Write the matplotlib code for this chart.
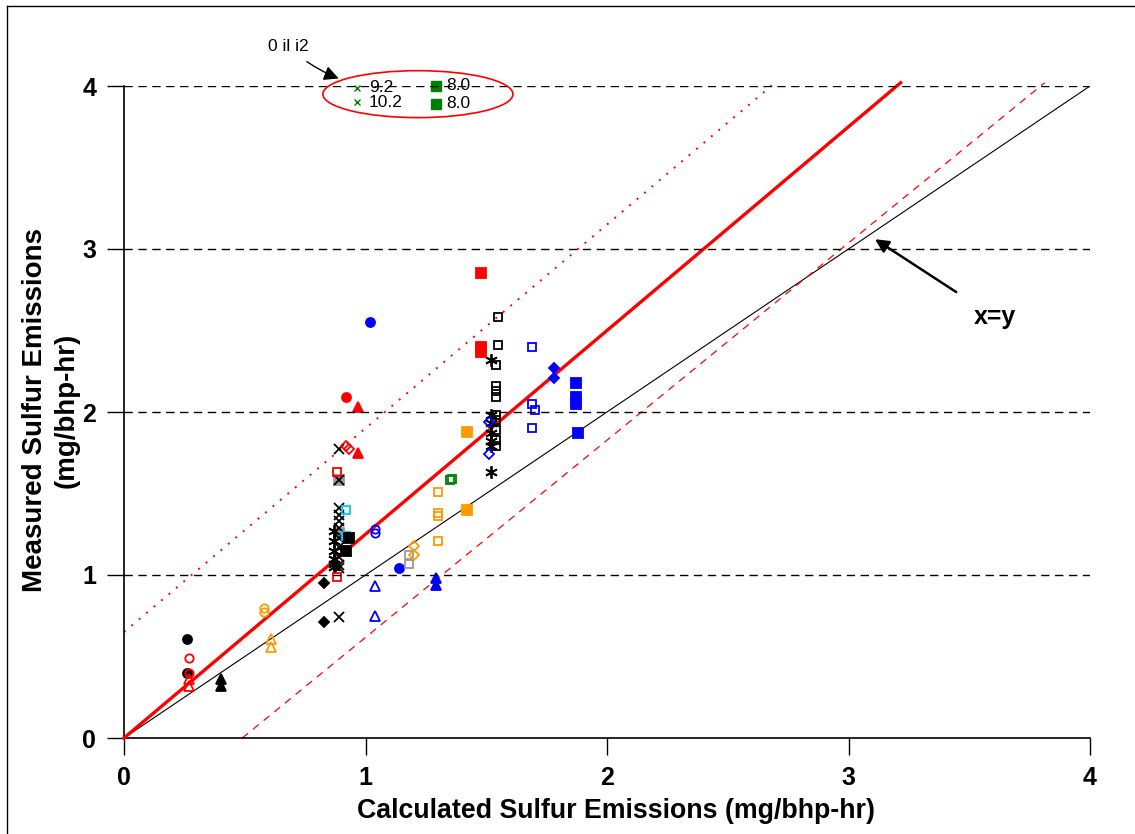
import matplotlib
matplotlib.use("Agg")
from matplotlib import pyplot as plt
from matplotlib.patches import Ellipse
from matplotlib.lines import Line2D

# ---- data (mg/bhp-hr) ----
blk_circ_x = [0.26, 0.26]
blk_circ_y = [0.61, 0.40]
red_ocirc_x = [0.27, 0.27]
red_ocirc_y = [0.49, 0.40]
red_otri_x = [0.27, 0.27]
red_otri_y = [0.36, 0.32]
blk_tri_x = [0.40, 0.40]
blk_tri_y = [0.36, 0.32]
org_ocirc_x = [0.58, 0.58]
org_ocirc_y = [0.80, 0.77]
org_otri_x = [0.61, 0.61]
org_otri_y = [0.61, 0.56]
blk_dia_x = [0.83, 0.83]
blk_dia_y = [0.95, 0.71]
blk_x_x = [0.89] * 12
blk_x_y = [1.77, 1.58, 1.41, 1.37, 1.33, 1.29, 1.23, 1.17, 1.11, 1.06, 1.04, 0.74]
blk_ast_x = [0.87, 0.87, 0.87, 0.87, 0.87, 0.87, 1.52, 1.52, 1.52, 1.52, 1.52, 1.52, 1.52]
blk_ast_y = [1.27, 1.21, 1.15, 1.10, 1.07, 1.05, 2.32, 1.98, 1.93, 1.87, 1.82, 1.79, 1.63]
red_osq_x = [0.88, 0.88]
red_osq_y = [1.63, 0.99]
red_odia_x = [0.92, 0.93]
red_odia_y = [1.79, 1.77]
red_circ_x = [0.92]
red_circ_y = [2.09]
red_tri_x = [0.97, 0.97]
red_tri_y = [2.03, 1.75]
gry_sq_x = [0.89, 0.89]
gry_sq_y = [1.58, 1.26]
cyn_osq_x = [0.92, 0.92]
cyn_osq_y = [1.40, 1.24]
blk_sq_x = [0.93, 0.92]
blk_sq_y = [1.23, 1.15]
blu_ocirc_x = [1.04, 1.04]
blu_ocirc_y = [1.28, 1.26]
blu_circ_x = [1.02, 1.14]
blu_circ_y = [2.55, 1.04]
blu_otri_x = [1.04, 1.04]
blu_otri_y = [0.93, 0.75]
blu_tri_x = [1.29, 1.29]
blu_tri_y = [0.98, 0.94]
gry_osq_x = [1.18, 1.18]
gry_osq_y = [1.12, 1.07]
org_odia_x = [1.20, 1.20]
org_odia_y = [1.18, 1.12]
org_osq_x = [1.30, 1.30, 1.30, 1.30]
org_osq_y = [1.51, 1.38, 1.36, 1.21]
org_sq_x = [1.42, 1.42]
org_sq_y = [1.88, 1.40]
grn_osq_x = [1.35, 1.36]
grn_osq_y = [1.58, 1.59]
red_sq_x = [1.48, 1.48, 1.48]
red_sq_y = [2.85, 2.40, 2.37]
blk_osq_x = [1.55, 1.55, 1.54, 1.54, 1.54, 1.54, 1.54, 1.54, 1.54, 1.54, 1.54]
blk_osq_y = [2.58, 2.41, 2.29, 2.16, 2.13, 2.09, 1.98, 1.95, 1.89, 1.83, 1.79]
blu_odia_x = [1.51, 1.51]
blu_odia_y = [1.94, 1.74]
blu_osq_x = [1.69, 1.69, 1.70, 1.69]
blu_osq_y = [2.40, 2.05, 2.01, 1.90]
blu_dia_x = [1.78, 1.78]
blu_dia_y = [2.27, 2.21]
blu_sq_x = [1.87, 1.87, 1.87, 1.88]
blu_sq_y = [2.18, 2.09, 2.05, 1.87]

# oil i2 points shown in the circled note
oil_labels = ["9.2", "10.2"]
oil_x_y = [3.99, 3.90]
oil_sq_labels = ["8.0", "8.0"]
oil_sq_y = [4.00, 3.89]

# reference lines: slope, intercept
fit_slope = 1.25
upper_icpt = 0.65
lower_slope, lower_x0 = 1.21, 0.49

RED = "#ff0000"
BLUE = "#0000ff"
ORANGE = "#ff9900"
GREEN = "#008000"
CYAN = "#00ccff"
GRAY = "#999999"
AST = (6, 2, 0)

series = [
    (blk_circ_x, blk_circ_y, "o", "k", True, 6.5),
    (red_ocirc_x, red_ocirc_y, "o", RED, False, 6),
    (red_otri_x, red_otri_y, "^", RED, False, 7),
    (blk_tri_x, blk_tri_y, "^", "k", True, 7),
    (org_ocirc_x, org_ocirc_y, "o", ORANGE, False, 6),
    (org_otri_x, org_otri_y, "^", ORANGE, False, 7),
    (blk_dia_x, blk_dia_y, "D", "k", True, 5.5),
    (gry_sq_x, gry_sq_y, "s", GRAY, True, 6.5),
    (blk_x_x, blk_x_y, "x", "k", True, 7),
    (blk_ast_x, blk_ast_y, AST, "k", True, 9),
    (red_osq_x, red_osq_y, "s", RED, False, 6),
    (red_odia_x, red_odia_y, "D", RED, False, 5.5),
    (red_circ_x, red_circ_y, "o", RED, True, 6.5),
    (red_tri_x, red_tri_y, "^", RED, True, 7),
    (cyn_osq_x, cyn_osq_y, "s", CYAN, False, 6),
    (blk_sq_x, blk_sq_y, "s", "k", True, 6.5),
    (blu_ocirc_x, blu_ocirc_y, "o", BLUE, False, 6),
    (blu_circ_x, blu_circ_y, "o", BLUE, True, 6.5),
    (blu_otri_x, blu_otri_y, "^", BLUE, False, 7),
    (blu_tri_x, blu_tri_y, "^", BLUE, True, 7),
    (gry_osq_x, gry_osq_y, "s", GRAY, False, 6),
    (org_odia_x, org_odia_y, "D", ORANGE, False, 5.5),
    (org_osq_x, org_osq_y, "s", ORANGE, False, 6),
    (org_sq_x, org_sq_y, "s", ORANGE, True, 6.5),
    (grn_osq_x, grn_osq_y, "s", GREEN, False, 6),
    (red_sq_x, red_sq_y, "s", RED, True, 6.5),
    (blk_osq_x, blk_osq_y, "s", "k", False, 6),
    (blu_odia_x, blu_odia_y, "D", BLUE, False, 5.5),
    (blu_osq_x, blu_osq_y, "s", BLUE, False, 6),
    (blu_dia_x, blu_dia_y, "D", BLUE, True, 5.5),
    (blu_sq_x, blu_sq_y, "s", BLUE, True, 6.5),
]

FONT = ["Liberation Sans", "DejaVu Sans"]


def main():
    fig = plt.figure(figsize=(11.35, 8.34), dpi=100)
    ax = fig.add_axes([124 / 1135, 1 - 738 / 834, 966 / 1135, 652 / 834])
    ax.set_xlim(0, 4)
    ax.set_ylim(0, 4)

    for y in [1, 2, 3, 4]:
        ax.axhline(y, color="k", lw=1, ls=(0, (6, 4)), zorder=5)

    # reference lines
    ax.plot([0, 4], [0, 4], color="k", lw=0.8, zorder=2)
    xt = 4.02 / fit_slope
    ax.plot([0, xt], [0, fit_slope * xt], color=RED, lw=2.4, zorder=3, clip_on=False)
    xu = (4.02 - upper_icpt) / fit_slope
    ax.plot([0, xu], [upper_icpt, fit_slope * xu + upper_icpt], color=RED, lw=1.4,
            ls=(0, (1, 4)), zorder=2, clip_on=False)
    xl = 4.02 / lower_slope + lower_x0
    ax.plot([lower_x0, xl], [0, lower_slope * (xl - lower_x0)], color=RED, lw=0.9,
            ls=(0, (6, 5)), zorder=2, clip_on=False)

    for xs, ys, m, c, filled, ms in series:
        ax.plot(xs, ys, ls="none", marker=m, ms=ms, mec=c,
                mfc=c if filled else "none", mew=1.3, zorder=4)

    # note for oil i2
    ax.plot([0.965] * 2, oil_x_y, ls="none", marker="x", ms=4.5, mec=GREEN, mew=1,
            zorder=4, clip_on=False)
    ax.plot([1.29] * 2, oil_sq_y, ls="none", marker="s", ms=6.5, mec=GREEN, mfc=GREEN,
            zorder=4, clip_on=False)
    for lab, y in zip(oil_labels, oil_x_y):
        ax.text(1.015, y, lab, fontsize=12.5, family=FONT, va="center", ha="left", zorder=3)
    for lab, y in zip(oil_sq_labels, oil_sq_y):
        ax.text(1.335, y, lab, fontsize=12.5, family=FONT, va="center", ha="left", zorder=3)
    ax.add_patch(Ellipse((1.217, 3.95), 0.787, 0.288, fill=False, ec=RED, lw=1.2,
                         clip_on=False, zorder=6))
    ax.annotate("0 il i2", xy=(0.90, 4.04), xytext=(0.595, 4.215), fontsize=12.5,
                family=FONT, annotation_clip=False,
                arrowprops=dict(arrowstyle="-|>", color="k", lw=1,
                                mutation_scale=22, shrinkA=6,
                                connectionstyle="arc3,rad=0.1"))

    ax.annotate("x=y", xy=(3.11, 3.06), xytext=(3.52, 2.58), fontsize=18,
                fontweight="bold", family=FONT, va="center", ha="left",
                arrowprops=dict(arrowstyle="-|>", color="k", lw=1.8,
                                mutation_scale=20, shrinkA=14, shrinkB=0))

    for s in ["top", "right"]:
        ax.spines[s].set_visible(False)
    ax.spines["left"].set_linewidth(1.2)
    ax.spines["bottom"].set_linewidth(1.2)
    ax.set_xticks([0, 1, 2, 3, 4])
    ax.set_yticks([0, 1, 2, 3, 4])
    ax.tick_params(length=12, width=1, pad=8)
    for lab in ax.get_xticklabels() + ax.get_yticklabels():
        lab.set_fontfamily(FONT)
        lab.set_fontweight("bold")
        lab.set_fontsize(18)

    fig.text(616 / 1135, 1 - 811 / 834, "Calculated Sulfur Emissions (mg/bhp-hr)",
             family=FONT, fontweight="bold", fontsize=19.3, ha="center", va="center")
    fig.text(51 / 1135, 1 - 410 / 834, "Measured Sulfur Emissions\n(mg/bhp-hr)",
             family=FONT, fontweight="bold", fontsize=20, ha="center", va="center",
             rotation=90, multialignment="center", linespacing=1.25)

    # frame around the figure
    fig.add_artist(Line2D([0.006, 1], [0.993, 0.993], color="k", lw=1))
    fig.add_artist(Line2D([0.006, 0.006], [0, 0.993], color="k", lw=1))

    fig.savefig("out.png", dpi=100)


if __name__ == "__main__":
    main()
